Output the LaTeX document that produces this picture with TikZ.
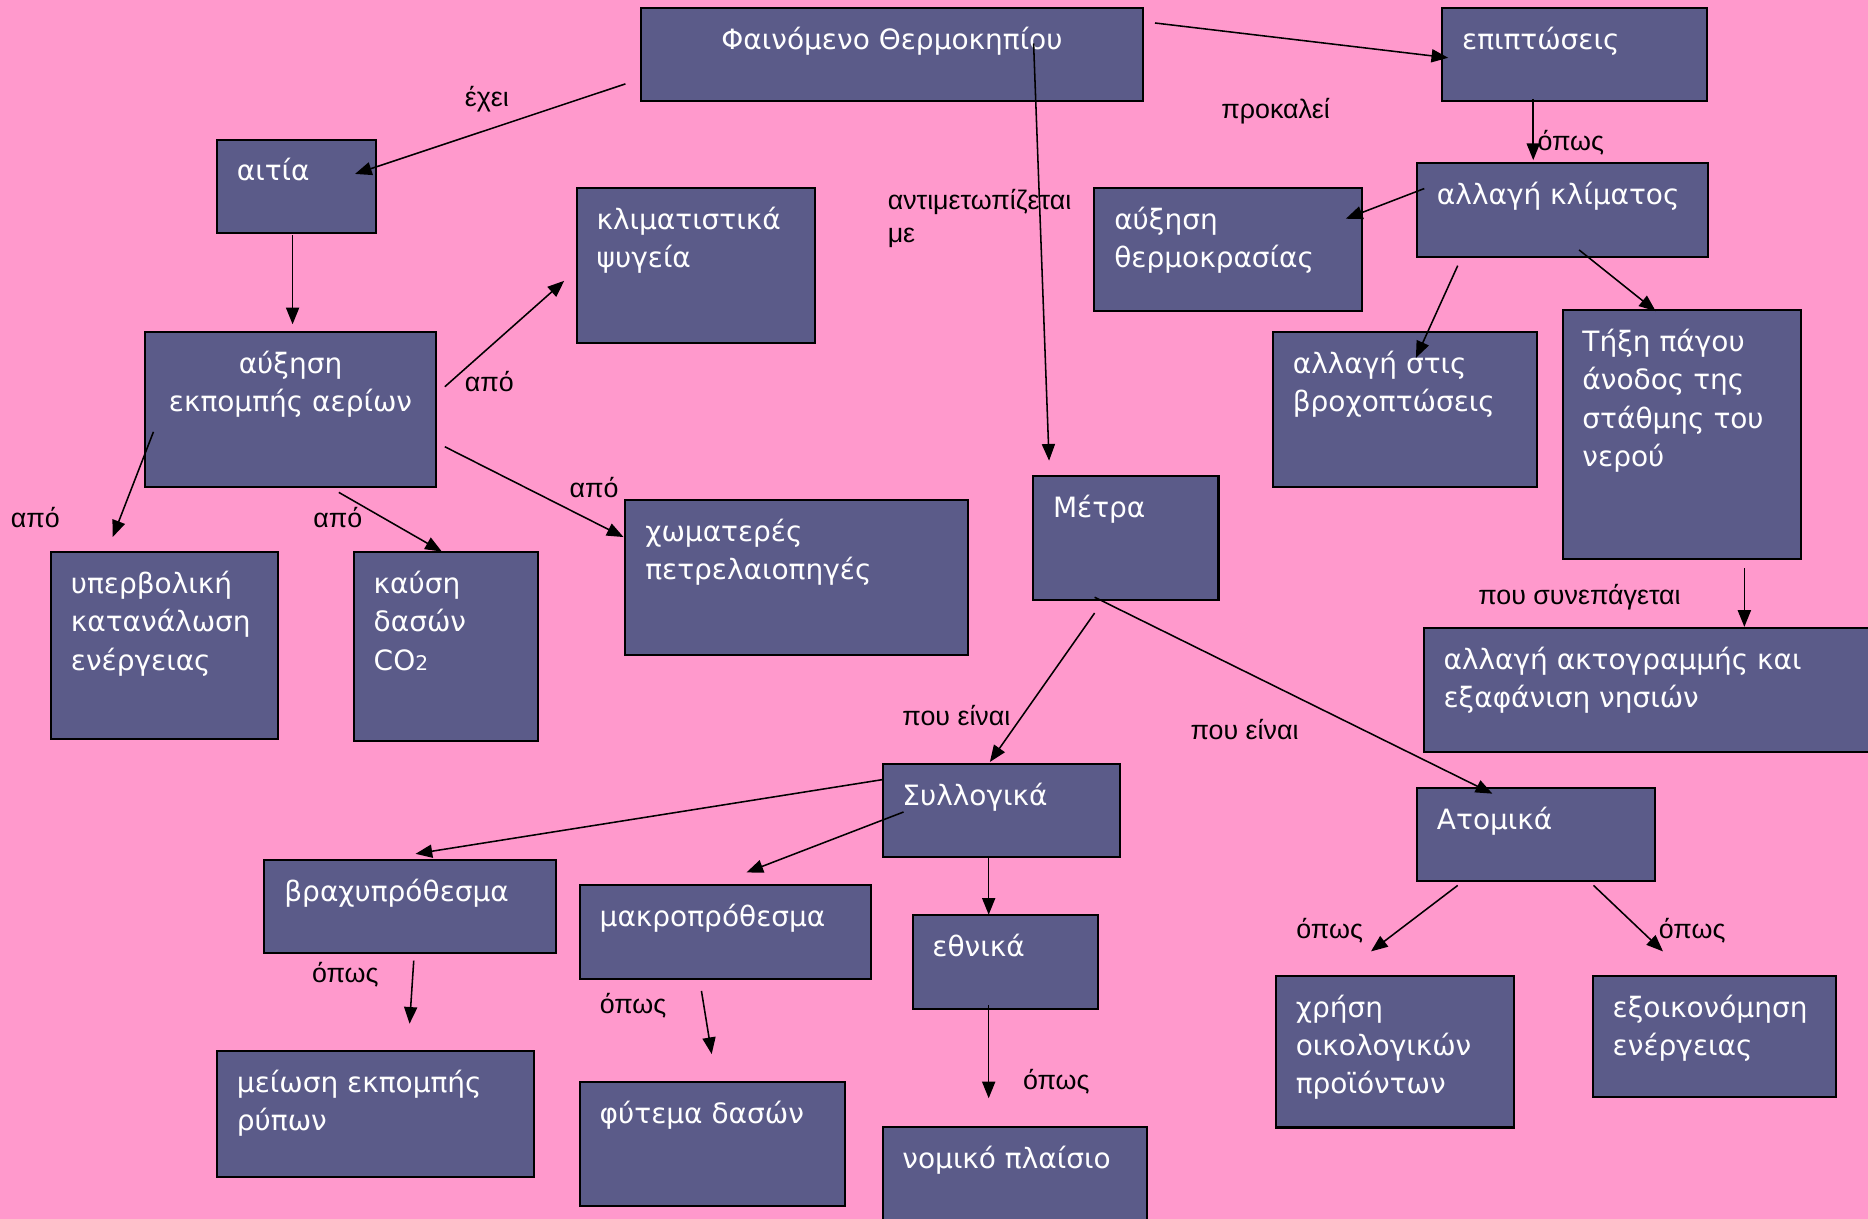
\documentclass[tikz,border=0pt]{standalone}
\usepackage{fontspec}
\setmainfont{DejaVu Sans}
\newfontfamily\lblfont{Liberation Sans}
\usetikzlibrary{arrows.meta,fit}
\definecolor{bgpink}{RGB}{255,153,204}
\definecolor{boxc}{RGB}{91,91,137}
\tikzset{
  box/.style={draw=black, line width=1.7pt, fill=boxc, inner sep=0pt},
  btxt/.style={anchor=north west, inner sep=0pt, text=white, align=left, font=\fontsize{23.5}{32}\selectfont},
  lbl/.style={anchor=base west, inner sep=0pt, text=black, align=left, font=\lblfont\fontsize{22.5}{27}\selectfont},
  arr/.style={line width=1.3pt, -{Triangle[length=14pt,width=11pt]}}
}
\newcommand\cmbox[6]{%
  \node[box, fit={(#2,#3) (#4,#5)}] (#1) {};
  \node[btxt] (#1-t) at (#2+16.5,#3+14.5) {\rule{0pt}{20pt}#6};}
\newcommand\cmcbox[6]{%
  \node[box, fit={(#2,#3) (#4,#5)}] (#1) {};
  \node[btxt, anchor=north, align=center] (#1-t) at ({(#2+#4)/2},#3+14.5) {\rule{0pt}{20pt}#6};}
\begin{document}
\begin{tikzpicture}[x=1pt,y=-1pt]
\fill[bgpink] (0,0) rectangle (1568,1023);
\useasboundingbox (0,0) rectangle (1568,1023);
% boxes
\cmcbox{phen}{538}{7}{959.5}{84.5}{Φαινόμενο Θερμοκηπίου}
\cmbox{epipt}{1210.6}{6.6}{1432.6}{84.9}{επιπτώσεις}
\cmbox{aitia}{182.2}{117.2}{315.6}{195.9}{αιτία}
\cmbox{klim}{484.1}{157.7}{684}{287.8}{κλιματιστικά\\ψυγεία}
\cmcbox{auxek}{121.8}{278.5}{365.9}{408.6}{αύξηση\\εκπομπής αερίων}
\cmbox{auxth}{918.6}{157.7}{1143.5}{260.9}{αύξηση\\θερμοκρασίας}
\cmbox{allkl}{1189.5}{137.1}{1433.5}{215.8}{αλλαγή κλίματος}
\cmbox{vrox}{1068.5}{278.5}{1290.5}{408.6}{αλλαγή στις\\βροχοπτώσεις}
\cmbox{tixi}{1311.6}{260.6}{1512}{469}{Τήξη πάγου\\άνοδος της\\στάθμης του\\νερού}
\cmbox{metra}{867.2}{399.3}{1022.8}{503.6}{Μέτρα}
\cmbox{yperv}{42.8}{463.7}{233}{620.4}{υπερβολική\\κατανάλωση\\ενέργειας}
\cmbox{kaysi}{297}{463.7}{452}{622.1}{καύση\\δασών\\CO{\fontsize{17}{17}\selectfont 2}}
\cmbox{xom}{525}{419.9}{812.5}{550.1}{χωματερές\\πετρελαιοπηγές}
\cmbox{akto}{1195}{527.2}{1600}{631.3}{αλλαγή ακτογραμμής και\\εξαφάνιση νησιών}
\cmbox{syll}{740.8}{641.2}{940.4}{719.7}{Συλλογικά}
\cmbox{atom}{1189.5}{661.5}{1389.3}{739.6}{Ατομικά}
\cmbox{vrax}{222}{721.8}{466.6}{800}{βραχυπρόθεσμα}
\cmbox{makr}{486.7}{742.6}{731.3}{821.5}{μακροπρόθεσμα}
\cmbox{ethn}{766}{768.1}{921.7}{846.7}{εθνικά}
\cmbox{meiosi}{182.2}{882.4}{448.4}{987.6}{μείωση εκπομπής\\ρύπων}
\cmbox{fyt}{486.7}{908}{709.1}{1012.4}{φύτεμα δασών}
\cmbox{nom}{740.8}{946.1}{962.5}{1060}{νομικό πλαίσιο}
\cmbox{xrisi}{1071}{819.1}{1270.8}{946.4}{χρήση\\οικολογικών\\προϊόντων}
\cmbox{exoik}{1337}{819.1}{1541}{920.5}{εξοικονόμηση\\ενέργειας}
% connector end points
\coordinate (s1) at (525,70.4);     \coordinate (e1) at (298,146);
\coordinate (s2) at (969.5,19.3);   \coordinate (e2) at (1215.6,48.5);
\coordinate (s3) at (867.6,36.5);   \coordinate (e3) at (880.6,386.7);
\coordinate (s4) at (245.6,197.5);  \coordinate (e4) at (245.6,272.2);
\coordinate (s5) at (373.4,324.6);  \coordinate (e5) at (473.6,235.7);
\coordinate (s6) at (128.8,362.5);  \coordinate (e6) at (94.6,450.8);
\coordinate (s7) at (284.4,413.3);  \coordinate (e7) at (370.9,463);
\coordinate (s8) at (373.4,375);    \coordinate (e8) at (523.4,450.8);
\coordinate (s9) at (1287,83);      \coordinate (e9) at (1287,134.4);
\coordinate (s10) at (1195.5,158.3); \coordinate (e10) at (1129.7,183.6);
\coordinate (s11) at (1223.6,223);  \coordinate (e11) at (1188.5,300.4);
\coordinate (s12) at (1325.5,209.8); \coordinate (e12) at (1389.8,261.2);
\coordinate (s13) at (1464.2,477);  \coordinate (e13) at (1464.2,526.2);
\coordinate (s14) at (918.8,514.6); \coordinate (e14) at (830.9,639.6);
\coordinate (s15) at (918.8,501.3); \coordinate (e15) at (1252.7,666.2);
\coordinate (s16) at (740.8,654.4); \coordinate (e16) at (348.8,716.7);
\coordinate (s17) at (758.4,681.6); \coordinate (e17) at (626.6,732.3);
\coordinate (s18) at (829.9,718.4); \coordinate (e18) at (829.9,767.8);
\coordinate (s19) at (829.9,844);   \coordinate (e19) at (829.9,921.9);
\coordinate (s20) at (347.3,806.3); \coordinate (e20) at (343.8,859.3);
\coordinate (s21) at (588.8,831.8); \coordinate (e21) at (597.4,884.8);
\coordinate (s22) at (1223.6,743.2); \coordinate (e22) at (1150.8,798.6);
\coordinate (s23) at (1337.6,743.2); \coordinate (e23) at (1395.9,798.6);
\foreach \i in {1,...,23} { \draw[arr] (s\i) -- (e\i); }
% labels
\node[lbl] (l1) at (390,89) {έχει};
\node[lbl] (l2) at (1025,99.6) {προκαλεί};
\node[lbl, anchor=north west] (l3) at (745,158) {\rule{0pt}{18pt}αντιμετωπίζεται\\με};
\node[lbl] (l4) at (1290.4,126) {όπως};
\node[lbl] (l5) at (390,328.6) {από};
\node[lbl] (l6) at (9,443) {από};
\node[lbl] (l7) at (262.8,443) {από};
\node[lbl] (l8) at (478,417.6) {από};
\node[lbl] (l9) at (1240.7,507.2) {που συνεπάγεται};
\node[lbl] (l10) at (757.3,609) {που είναι};
\node[lbl] (l11) at (999.2,620.7) {που είναι};
\node[lbl] (l12) at (261.7,824.6) {όπως};
\node[lbl] (l13) at (503.3,851) {όπως};
\node[lbl] (l14) at (858.5,914.6) {όπως};
\node[lbl] (l15) at (1088,788) {όπως};
\node[lbl] (l16) at (1392.3,788) {όπως};
\end{tikzpicture}
\end{document}
